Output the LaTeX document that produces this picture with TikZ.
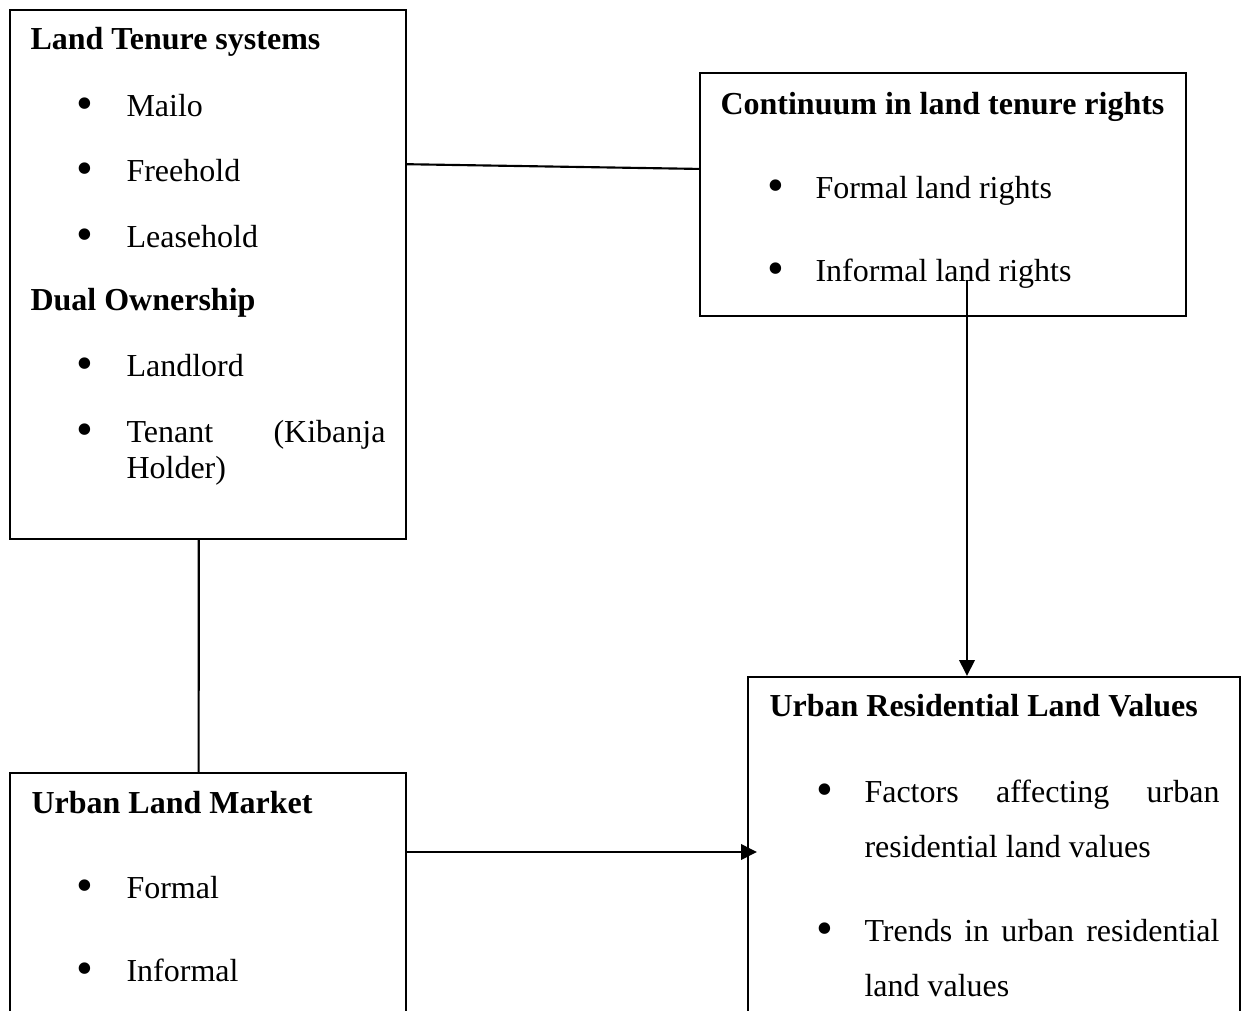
\documentclass[tikz,border=0pt]{standalone}
\usepackage{fontspec}
\setmainfont{Liberation Serif}
\usepackage{tikz}
\usetikzlibrary{arrows.meta}
\newdimen\pxu
\pxu=0.375pt

\begin{document}
\begin{tikzpicture}[
	x = 0.375pt, y = -0.375pt,
	box/.style = {draw, rectangle, line width=0.8pt, inner sep=0pt, anchor=north west},
	title/.style = {anchor=base west, inner sep=0pt, font=\fontsize{12}{14}\selectfont\bfseries},
	entry/.style = {anchor=base west, inner sep=0pt},
	dot/.style = {anchor=base, inner sep=0pt, yshift=-1.4pt, font=\fontsize{18}{18}\selectfont},
	link/.style = {line width=0.8pt},
	arr/.style = {line width=0.8pt, -{Triangle[length=6pt, width=5.8pt]}},
]
\tikzstyle{every node}=[font=\fontsize{12}{14}\selectfont]
\useasboundingbox (0,0) rectangle (1241,1011);
\clip (0,0) rectangle (1241,1011);

% Define boxes
\node[box, minimum width=396\pxu, minimum height=529\pxu] (tenure) at (9,9) {};
\node[box, minimum width=486\pxu, minimum height=243\pxu] (rights) at (699,72) {};
\node[box, minimum width=396\pxu, minimum height=268\pxu] (market) at (9,772) {};
\node[box, minimum width=492\pxu, minimum height=364\pxu] (values) at (747,676) {};

% Land tenure box
\node[title] (tenurehead) at (30,49) {Land Tenure systems};
\foreach \y/\t [count=\i] in {116/Mailo, 181/Freehold, 247/Leasehold} {
	\node[dot] (tenuredot\i) at (85,\y) {\textbullet};
	\node[entry] (tenureitem\i) at (126,\y) {\t};
}
\node[title] (dualhead) at (30,310) {Dual Ownership};
\node[dot] (dualdot1) at (85,376) {\textbullet};
\node[entry] (dualitem1) at (126,376) {Landlord};
\node[dot] (dualdot2) at (85,442) {\textbullet};
\node[entry] (dualitem2) at (126,442) {\makebox[259\pxu][s]{Tenant (Kibanja}};
\node[entry] (dualitem2b) at (126,478) {Holder)};

% Continuum box
\node[title] (rightshead) at (720,114) {Continuum in land tenure rights};
\foreach \y/\t [count=\i] in {198/Formal land rights, 281/Informal land rights} {
	\node[dot] (rightsdot\i) at (776,\y) {\textbullet};
	\node[entry] (rightsitem\i) at (815,\y) {\t};
}

% Market box
\node[title] (markethead) at (31,813) {Urban Land Market};
\foreach \y/\t [count=\i] in {898/Formal, 981/Informal} {
	\node[dot] (marketdot\i) at (85,\y) {\textbullet};
	\node[entry] (marketitem\i) at (126,\y) {\t};
}

% Land values box
\node[title] (valueshead) at (769,716) {Urban Residential Land Values};
\node[dot] (valuesdot1) at (825,802) {\textbullet};
\node[entry] (valuesitem1) at (864,802) {\makebox[355\pxu][s]{Factors affecting urban}};
\node[entry] (valuesitem1b) at (864,857) {residential land values};
\node[dot] (valuesdot2) at (825,941) {\textbullet};
\node[entry] (valuesitem2) at (864,941) {\makebox[355\pxu][s]{Trends in urban residential}};
\node[entry] (valuesitem2b) at (864,996) {land values};

% Draw connectors
\coordinate (tap) at (967,280);
\coordinate (valuesin) at (757,852);
\draw[link] (tenure.29.2) -- (rights.174.6);
\draw[link] (tenure.-92.6) -- (market.94);
\draw[arr] (tap) -- (tap |- values.north);
\draw[arr] (market.east |- valuesin) -- (valuesin);
\end{tikzpicture}
\end{document}
